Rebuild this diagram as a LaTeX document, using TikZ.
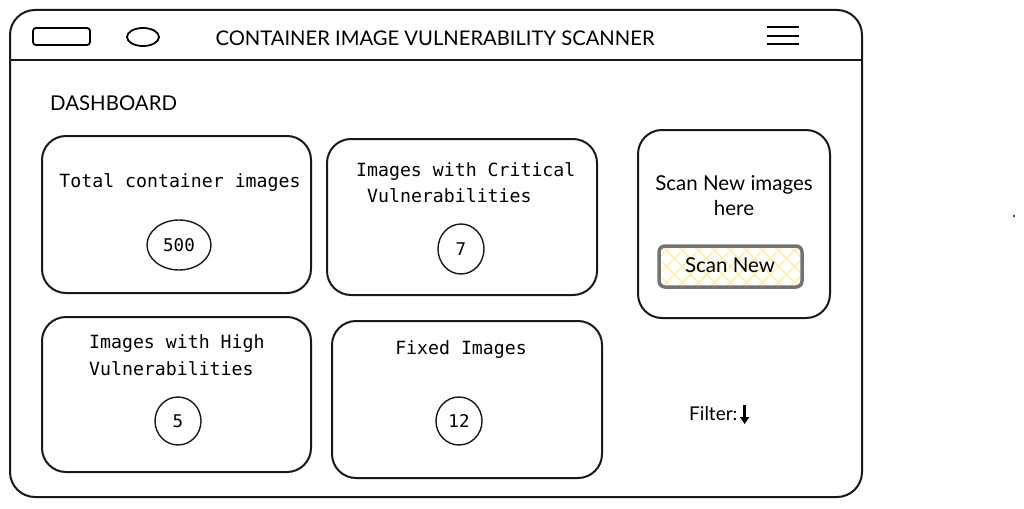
\documentclass[tikz,border=0pt]{standalone}
\usepackage{fontspec}
\setmainfont{Lato}
\newfontfamily\cardfont{DejaVu Sans Mono}
\usetikzlibrary{arrows.meta,shapes.geometric}
\definecolor{hatchyellow}{RGB}{255,236,153}
\tikzset{
  frame/.style={draw=black!90, line width=2pt, rounded corners=25pt},
  card/.style={draw=black!90, line width=2pt, rounded corners=24pt},
  num/.style={draw=black!90, line width=1.4pt, ellipse, inner sep=0pt, font=\cardfont\fontsize{17.5}{17}\selectfont},
  mono/.style={font=\cardfont\fontsize{18.2}{25}\selectfont, align=left, inner sep=0pt},
  sans/.style={font=\fontsize{20.5}{25}\selectfont, inner sep=0pt, align=center},
  hatch/.style={draw=hatchyellow, line width=1.3pt}
}
\begin{document}
\begin{tikzpicture}[x=1pt,y=-1pt]
\useasboundingbox (0,0) rectangle (1024,508);
% outer window
\draw[frame] (10,10) rectangle (862,497);
\draw[line width=2pt, draw=black!90] (10,60) -- (862,60);
% header icons
\draw[line width=1.8pt, rounded corners=3pt] (33,28) rectangle (90,45);
\node[draw, line width=1.8pt, ellipse, minimum width=32pt, minimum height=18pt, inner sep=0pt] (dot) at (143,37) {};
\node[sans, font=\fontsize{20.2}{22}\selectfont] (title) at (435,38) {CONTAINER IMAGE VULNERABILITY SCANNER};
\foreach \yy in {27,36,44} \draw[line width=1.8pt] (767,\yy) -- (799,\yy);
\node[sans, font=\fontsize{20.4}{22}\selectfont, anchor=west] (dash) at (50,103) {DASHBOARD};
% card 1
\draw[card] (42,136) rectangle (311,293);
\node[mono] (t1) at (180,182) {Total container images};
\node[num, minimum width=64pt, minimum height=50pt] (n1) at (179,245) {500};
% card 2
\draw[card] (327,139) rectangle (597,295);
\node[mono, anchor=west] (t2a) at (356,171) {Images with Critical};
\node[mono, anchor=west] (t2b) at (367,196) {Vulnerabilities};
\node[num, minimum width=46pt, minimum height=50pt] (n2) at (461,249) {7};
% card 3
\draw[card] (42,317) rectangle (311,472);
\node[mono, anchor=west] (t3a) at (89,344) {Images with High};
\node[mono, anchor=west] (t3b) at (89,369) {Vulnerabilities};
\node[num, minimum width=46pt, minimum height=48pt] (n3) at (178,421) {5};
% card 4
\draw[card] (332,321) rectangle (602,478);
\node[mono] (t4) at (461,350) {Fixed Images};
\node[num, minimum width=46pt, minimum height=48pt] (n4) at (459,421) {12};
% card 5
\draw[card] (638,130) rectangle (830,318);
\node[sans] (t5) at (734,196) {Scan New images\\here};
\begin{scope}
\clip[rounded corners=6pt] (659,246) rectangle (802,287);
\foreach \k in {0,...,12} {
  \draw[hatch] (630+\k*16,287) -- (671+\k*16,246);
  \draw[hatch] (630+\k*16,246) -- (671+\k*16,287);
}
\end{scope}
\draw[line width=3.5pt, draw=black!55, rounded corners=6pt] (659,246) rectangle (802,287);
\node[sans] (btn) at (730,265) {Scan New};
% filter
\node[sans, font=\fontsize{19}{20}\selectfont, anchor=west] (filter) at (689,414) {Filter:};
\draw[line width=3.2pt, -{Triangle[length=7pt,width=9pt]}] ([xshift=7pt,yshift=9pt]filter.east) -- ([xshift=7pt,yshift=-10pt]filter.east);
% stray dot
\fill (1014,216) circle (1.2pt);
\end{tikzpicture}
\end{document}
